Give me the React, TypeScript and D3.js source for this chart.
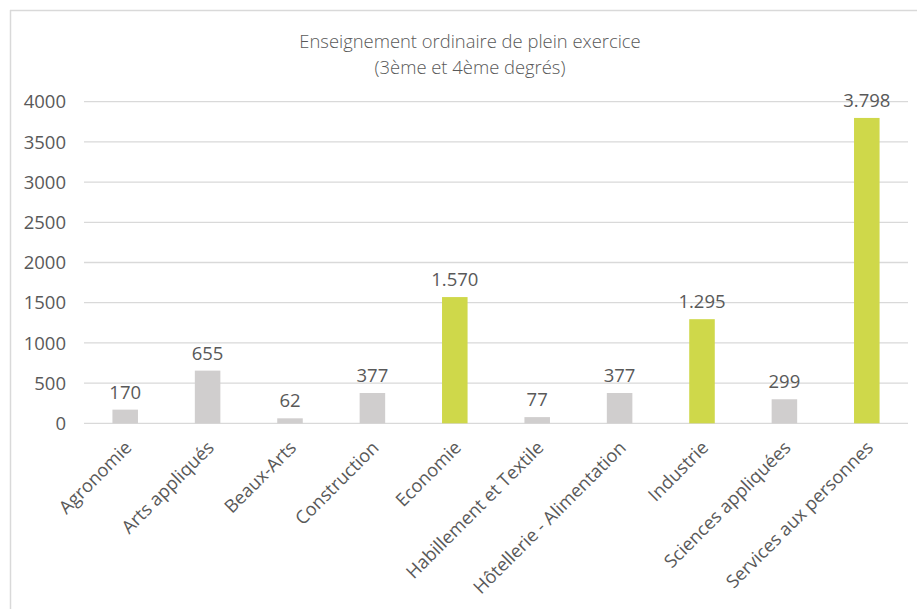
import React from "react";
import * as d3 from "d3";

const categories = [
  "Agronomie",
  "Arts appliqués",
  "Beaux-Arts",
  "Construction",
  "Economie",
  "Habillement et Textile",
  "Hôtellerie - Alimentation",
  "Industrie",
  "Sciences appliquées",
  "Services aux personnes",
];
const values = [170, 655, 62, 377, 1570, 77, 377, 1295, 299, 3798];
const highlighted = [false, false, false, false, true, false, false, true, false, true];
const yTicks = [0, 500, 1000, 1500, 2000, 2500, 3000, 3500, 4000];
const titleLines = ["Enseignement ordinaire de plein exercice", "(3ème et 4ème degrés)"];

const W = 917;
const H = 609;
const plotLeft = 84;
const plotRight = 908;
const plotTop = 101.7;
const plotBottom = 423.3;

const FONT = "'Open Sans', sans-serif";
const TEXT = "#595959";
const GRID = "#d9d9d9";
const GRAY = "#d0cece";
const GREEN = "#cfd84a";

const fmt = (v: number) => d3.format(",")(v).replace(/,/g, ".");

export default function App() {
  const x = d3
    .scaleBand<string>()
    .domain(categories)
    .range([plotLeft, plotRight])
    .paddingInner(0.69)
    .paddingOuter(0.345);
  const y = d3.scaleLinear().domain([0, 4000]).range([plotBottom, plotTop]);

  return (
    <svg
      width={W}
      height={H}
      style={{ position: "absolute", left: 0, top: 0, background: "#fff" }}
      fontFamily={FONT}
    >
      <rect x={0} y={0} width={W} height={H} fill="#fff" />
      <line x1={10.5} x2={10.5} y1={10} y2={H} stroke={GRID} strokeWidth={1.5} />
      <line x1={10} x2={W} y1={10.5} y2={10.5} stroke={GRID} strokeWidth={1.5} />
      {titleLines.map((t, i) => (
        <text
          key={i}
          x={470}
          y={48 + i * 26}
          textAnchor="middle"
          fontSize={18.4}
          fontWeight={300}
          fill={TEXT}
        >
          {t}
        </text>
      ))}
      {yTicks.map((t) => (
        <g key={t}>
          <line
            x1={plotLeft}
            x2={plotRight}
            y1={y(t)}
            y2={y(t)}
            stroke={GRID}
            strokeWidth={1.3}
          />
          <text
            x={66}
            y={y(t)}
            dy="0.36em"
            textAnchor="end"
            fontSize={18.5}
            fill={TEXT}
          >
            {t}
          </text>
        </g>
      ))}
      {categories.map((c, i) => {
        const bx = x(c) as number;
        const bw = x.bandwidth();
        const top = y(values[i]);
        const cx = bx + bw / 2;
        return (
          <g key={c}>
            <rect
              x={bx}
              y={top}
              width={bw}
              height={plotBottom - top}
              fill={highlighted[i] ? GREEN : GRAY}
            />
            <text
              x={cx}
              y={top - 11}
              textAnchor="middle"
              fontSize={18.5}
              fill={TEXT}
            >
              {fmt(values[i])}
            </text>
            <text
              transform={`translate(${cx + 3},${plotBottom + 21}) rotate(-45)`}
              textAnchor="end"
              dy="0.35em"
              fontSize={18.2}
              fill={TEXT}
            >
              {c}
            </text>
          </g>
        );
      })}
    </svg>
  );
}
